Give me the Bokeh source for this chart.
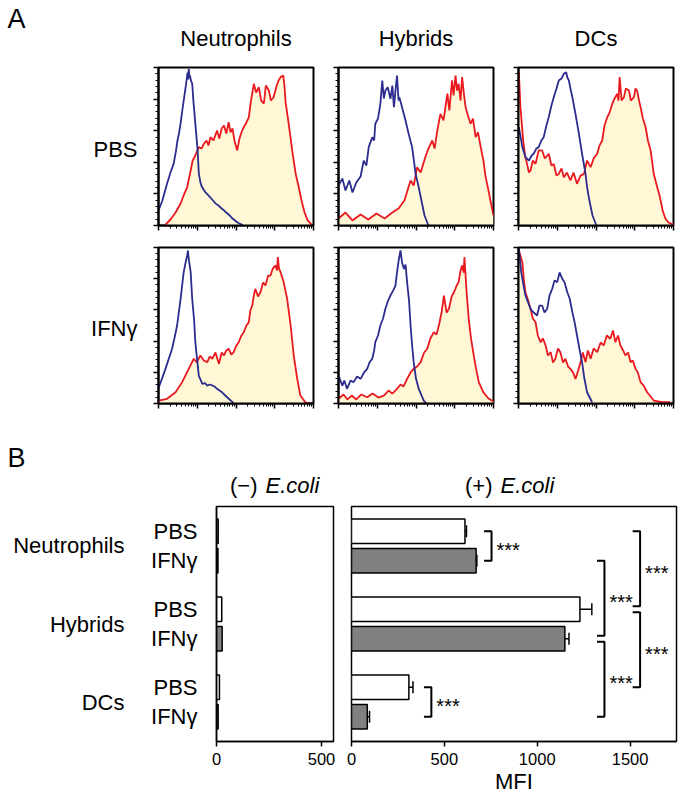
import numpy as np
from bokeh.plotting import figure
from bokeh.layouts import column, row
from bokeh.models import (Range1d, FactorRange, FixedTicker, LinearAxis, Whisker,
                          TeeHead, ColumnDataSource)
from bokeh.core.properties import value
from bokeh.embed import file_html
from bokeh.resources import INLINE

FONT = "Liberation Sans"
RED = "#E8191F"
BLUE = "#2C2C8E"
CREAM = "#FFF7D6"
GRAY = "#808080"

cells = ["Neutrophils", "Hybrids", "DCs"]
treatments = ["PBS", "IFNγ"]
panel_letters = ["A", "B"]
stim_signs = ["(−)", "(+)"]
stim_name = "E.coli"

# ---------------- Panel A: histograms (x = log10 fluorescence, y = % of max) ----
neu_pbs_blue_x = [0.00, 0.10, 0.22, 0.31, 0.39, 0.45, 0.49, 0.53, 0.57, 0.61, 0.65, 0.70, 0.73, 0.75, 0.77, 0.78, 0.80, 0.81, 0.84, 0.87, 0.90, 0.95, 1.01, 1.04, 1.08, 1.11, 1.16, 1.21, 1.27, 1.34, 1.40, 1.47, 1.53, 1.60, 1.67, 1.75, 1.83, 1.91, 2.04, 2.17]
neu_pbs_blue_y = [9.5, 15.8, 26.4, 33.5, 39.0, 47.0, 53.8, 58.5, 64.6, 72.0, 79.0, 87.5, 93.0, 96.8, 92.5, 99.2, 94.0, 95.0, 91.5, 89.7, 79.0, 64.6, 47.5, 33.0, 27.5, 25.0, 23.0, 21.0, 19.5, 17.7, 16.0, 14.0, 13.0, 11.4, 10.0, 8.2, 6.5, 4.4, 1.9, 0.3]
neu_pbs_red_x = [0.18, 0.31, 0.44, 0.57, 0.67, 0.74, 0.83, 0.88, 0.95, 1.04, 1.11, 1.17, 1.24, 1.29, 1.34, 1.42, 1.51, 1.57, 1.63, 1.69, 1.75, 1.81, 1.86, 1.91, 1.96, 2.03, 2.09, 2.14, 2.20, 2.27, 2.33, 2.37, 2.41, 2.46, 2.52, 2.59, 2.65, 2.72, 2.77, 2.85, 2.90, 2.97, 3.05, 3.10, 3.15, 3.22, 3.25, 3.28, 3.36, 3.45, 3.54, 3.62, 3.69, 3.77, 3.85, 3.95]
neu_pbs_red_y = [0.6, 3.8, 8.2, 13.9, 20.3, 24.2, 34.8, 41.0, 44.3, 49.6, 48.7, 51.7, 53.8, 50.6, 55.9, 53.8, 60.1, 55.0, 61.4, 63.3, 58.2, 65.4, 58.9, 61.4, 53.8, 47.5, 55.0, 58.9, 62.2, 65.2, 68.5, 75.9, 82.3, 89.7, 84.2, 87.5, 79.1, 77.2, 88.6, 85.4, 79.1, 81.2, 88.6, 91.8, 93.9, 94.9, 88.6, 78.0, 64.4, 47.5, 32.7, 24.2, 15.8, 8.2, 3.2, 0.6]

hyb_pbs_blue_x = [0.00, 0.10, 0.18, 0.28, 0.36, 0.46, 0.57, 0.65, 0.72, 0.78, 0.87, 0.92, 0.95, 1.02, 1.08, 1.13, 1.17, 1.21, 1.27, 1.32, 1.34, 1.39, 1.43, 1.47, 1.51, 1.55, 1.57, 1.64, 1.73, 1.81, 1.90, 1.99, 2.07, 2.14, 2.22, 2.32]
hyb_pbs_blue_y = [25.3, 29.7, 22.2, 28.5, 20.9, 27.2, 31.0, 41.1, 38.0, 49.6, 55.9, 53.8, 64.4, 67.7, 77.0, 91.8, 80.4, 85.4, 87.5, 82.3, 80.2, 88.6, 74.9, 85.4, 94.9, 79.1, 81.2, 74.9, 66.5, 58.0, 49.6, 32.7, 24.2, 15.8, 6.3, 0.0]
hyb_pbs_red_x = [0.00, 0.18, 0.36, 0.57, 0.77, 0.98, 1.19, 1.39, 1.55, 1.70, 1.86, 1.94, 2.03, 2.12, 2.24, 2.32, 2.42, 2.48, 2.55, 2.63, 2.71, 2.81, 2.86, 2.93, 2.97, 3.02, 3.06, 3.10, 3.15, 3.19, 3.24, 3.28, 3.34, 3.41, 3.47, 3.54, 3.60, 3.67, 3.74, 3.79, 3.87, 3.92, 4.00]
hyb_pbs_red_y = [4.4, 8.2, 3.2, 7.0, 3.8, 7.6, 4.4, 8.2, 10.8, 15.8, 28.5, 25.3, 36.9, 33.5, 43.2, 48.7, 53.8, 48.7, 60.1, 70.7, 66.5, 83.4, 72.8, 91.8, 82.3, 94.9, 85.4, 89.7, 79.1, 93.9, 82.3, 74.9, 69.6, 64.4, 67.7, 55.9, 58.9, 49.6, 41.1, 31.6, 22.2, 15.8, 6.3]

dc_pbs_blue_x = [0.01, 0.10, 0.18, 0.27, 0.34, 0.39, 0.46, 0.52, 0.59, 0.65, 0.72, 0.78, 0.85, 0.91, 0.98, 1.04, 1.11, 1.17, 1.23, 1.26, 1.30, 1.34, 1.39, 1.47, 1.56, 1.64, 1.73, 1.77, 1.83, 1.91, 2.01]
dc_pbs_blue_y = [62.2, 49.6, 43.2, 41.1, 44.3, 45.4, 48.7, 49.6, 53.8, 55.9, 63.3, 68.5, 75.9, 81.2, 86.7, 91.8, 93.0, 96.0, 97.0, 93.7, 91.8, 86.7, 81.2, 70.7, 58.0, 45.4, 32.7, 24.2, 15.8, 6.3, 0.0]
dc_pbs_red_x = [0.01, 0.05, 0.09, 0.12, 0.17, 0.22, 0.27, 0.31, 0.37, 0.44, 0.52, 0.61, 0.68, 0.78, 0.85, 0.91, 0.98, 1.04, 1.11, 1.17, 1.25, 1.34, 1.42, 1.51, 1.60, 1.69, 1.77, 1.86, 1.94, 2.03, 2.09, 2.16, 2.22, 2.29, 2.35, 2.42, 2.48, 2.55, 2.58, 2.61, 2.66, 2.72, 2.77, 2.85, 2.90, 2.98, 3.02, 3.06, 3.11, 3.15, 3.21, 3.28, 3.34, 3.41, 3.49, 3.58, 3.64, 3.72, 3.79, 3.87, 4.00]
dc_pbs_red_y = [97.0, 74.9, 63.3, 53.8, 44.3, 39.0, 33.5, 34.8, 41.1, 39.0, 47.5, 47.5, 42.4, 45.4, 38.0, 39.0, 31.6, 32.7, 36.1, 30.6, 33.5, 28.5, 33.5, 26.4, 31.6, 32.7, 41.1, 36.9, 42.4, 45.4, 50.6, 53.8, 63.3, 68.5, 71.5, 77.0, 80.4, 83.4, 79.1, 93.9, 79.1, 81.2, 86.7, 85.4, 79.1, 81.2, 86.7, 85.4, 79.1, 74.9, 67.7, 62.2, 53.8, 47.5, 32.7, 24.2, 19.0, 9.5, 4.4, 1.9, 0.6]

neu_ifn_blue_x = [0.01, 0.18, 0.35, 0.41, 0.48, 0.57, 0.65, 0.70, 0.74, 0.76, 0.78, 0.83, 0.87, 0.92, 0.95, 1.04, 1.13, 1.20, 1.26, 1.33, 1.39, 1.45, 1.51, 1.64, 1.77, 1.94]
neu_ifn_blue_y = [10.4, 22.2, 35.1, 41.7, 50.0, 67.1, 84.2, 90.4, 94.9, 98.1, 92.8, 84.2, 67.1, 53.2, 39.3, 17.9, 12.6, 13.0, 11.5, 12.2, 11.5, 10.8, 9.4, 7.2, 4.0, 0.2]
neu_ifn_red_x = [0.01, 0.22, 0.44, 0.61, 0.78, 0.91, 0.99, 1.08, 1.17, 1.26, 1.32, 1.39, 1.47, 1.56, 1.63, 1.69, 1.75, 1.81, 1.88, 1.94, 2.01, 2.07, 2.14, 2.20, 2.27, 2.33, 2.37, 2.42, 2.46, 2.50, 2.57, 2.63, 2.70, 2.76, 2.83, 2.89, 2.95, 3.02, 3.06, 3.08, 3.11, 3.15, 3.23, 3.32, 3.41, 3.49, 3.58, 3.66, 3.79, 3.92]
neu_ifn_red_y = [1.9, 3.0, 7.2, 13.7, 22.2, 28.7, 26.3, 30.8, 27.6, 26.5, 30.1, 28.7, 32.7, 25.4, 32.7, 30.8, 34.0, 35.1, 31.4, 32.9, 37.2, 39.3, 43.6, 45.7, 50.0, 52.1, 59.6, 62.8, 69.2, 73.5, 68.6, 71.3, 77.6, 75.6, 82.0, 82.0, 86.5, 88.5, 85.3, 93.8, 86.5, 84.2, 77.8, 67.1, 50.0, 30.8, 15.8, 5.1, 0.8, 0.0]

hyb_ifn_blue_x = [0.00, 0.10, 0.15, 0.22, 0.31, 0.39, 0.48, 0.57, 0.66, 0.74, 0.80, 0.87, 0.92, 0.95, 1.02, 1.08, 1.15, 1.21, 1.28, 1.34, 1.41, 1.47, 1.51, 1.56, 1.60, 1.64, 1.69, 1.73, 1.77, 1.82, 1.86, 1.90, 1.94, 2.00, 2.07, 2.20, 2.27]
hyb_ifn_blue_y = [17.9, 11.5, 14.7, 9.4, 14.7, 13.7, 17.3, 15.8, 19.9, 22.2, 26.3, 28.7, 34.0, 39.3, 43.6, 50.0, 54.5, 60.7, 66.0, 69.2, 72.4, 75.6, 84.0, 92.8, 98.1, 90.4, 86.3, 89.1, 77.8, 66.0, 50.0, 37.2, 26.5, 16.0, 9.4, 1.9, 0.0]
hyb_ifn_red_x = [0.00, 0.13, 0.23, 0.34, 0.46, 0.59, 0.74, 0.88, 1.03, 1.17, 1.29, 1.39, 1.51, 1.60, 1.68, 1.77, 1.86, 1.94, 2.03, 2.12, 2.21, 2.29, 2.37, 2.46, 2.53, 2.59, 2.66, 2.72, 2.79, 2.85, 2.92, 2.98, 3.05, 3.10, 3.15, 3.19, 3.23, 3.25, 3.28, 3.30, 3.36, 3.42, 3.49, 3.55, 3.62, 3.74, 3.87, 4.00]
hyb_ifn_red_y = [3.0, 5.8, 2.6, 5.1, 2.6, 5.8, 4.0, 6.4, 3.8, 5.1, 8.3, 6.4, 9.4, 12.2, 10.9, 15.8, 19.9, 22.2, 23.7, 26.5, 32.7, 35.1, 41.7, 45.7, 44.2, 50.0, 58.3, 69.2, 58.3, 60.7, 68.6, 71.3, 75.6, 77.8, 85.3, 88.5, 84.0, 93.8, 82.0, 73.5, 54.3, 41.7, 30.8, 22.4, 13.7, 7.1, 3.2, 1.3]

dc_ifn_blue_x = [0.01, 0.07, 0.13, 0.18, 0.25, 0.31, 0.39, 0.48, 0.54, 0.61, 0.67, 0.74, 0.80, 0.87, 0.93, 1.00, 1.06, 1.13, 1.19, 1.26, 1.32, 1.39, 1.45, 1.51, 1.57, 1.64, 1.70, 1.77, 1.90]
dc_ifn_blue_y = [99.2, 84.2, 75.6, 69.2, 64.7, 60.7, 58.3, 56.4, 62.8, 62.8, 58.3, 60.7, 69.2, 73.5, 78.8, 77.8, 84.0, 79.9, 77.6, 71.3, 67.3, 58.5, 51.9, 43.6, 35.3, 26.5, 16.0, 7.2, 0.8]
dc_ifn_red_x = [0.01, 0.10, 0.14, 0.18, 0.25, 0.31, 0.37, 0.44, 0.50, 0.57, 0.63, 0.70, 0.76, 0.83, 0.89, 0.95, 1.02, 1.08, 1.15, 1.21, 1.28, 1.34, 1.41, 1.47, 1.54, 1.60, 1.66, 1.73, 1.79, 1.86, 1.94, 2.03, 2.12, 2.20, 2.28, 2.37, 2.44, 2.50, 2.57, 2.63, 2.70, 2.76, 2.83, 2.89, 2.95, 3.02, 3.08, 3.15, 3.23, 3.32, 3.41, 3.49, 3.71, 3.92]
dc_ifn_red_y = [98.0, 90.6, 78.8, 71.3, 66.0, 60.7, 54.5, 52.1, 43.6, 39.3, 41.7, 37.2, 30.8, 32.9, 26.3, 28.7, 35.3, 32.9, 26.3, 28.7, 23.7, 22.2, 19.9, 15.8, 21.2, 26.5, 32.7, 26.5, 34.0, 28.7, 35.3, 32.9, 39.1, 37.2, 43.6, 41.5, 46.8, 39.3, 43.6, 37.2, 34.0, 30.8, 32.7, 26.5, 27.6, 22.2, 19.9, 13.7, 11.5, 7.2, 4.5, 1.9, 0.8, 0.8]

# ---------------- Panel B: MFI ----------------
neg_pbs = [8, 25, 14]
neg_ifn = [7, 27, 8]
pos_pbs = [611, 1230, 309]
pos_pbs_err = [8, 64, 22]
pos_ifn = [671, 1149, 85]
pos_ifn_err = [4, 22, 12]
neg_ticks = [0, 500]
pos_ticks = [0, 500, 1000, 1500]

bracket_upper = [("Neutrophils", "PBS"), ("Neutrophils", "IFNγ"), ("Hybrids", "IFNγ"),
                 ("Neutrophils", "PBS"), ("Hybrids", "PBS"), ("DCs", "PBS")]
bracket_lower = [("Neutrophils", "IFNγ"), ("Hybrids", "IFNγ"), ("DCs", "IFNγ"),
                 ("Hybrids", "PBS"), ("DCs", "PBS"), ("DCs", "IFNγ")]
bracket_x = [754, 1362, 1362, 1554, 1554, 430]
bracket_text = ["***", "***", "***", "***", "***", "***"]

# ---------------- layout constants (pixels) ----------------
PAGE_W = 681
HIST_LEFT = [158, 338, 518]
HIST_W = 155
HIST_H = [158, 156]
HEAD_A_H = 55
HEAD_B_H = 86
B_LEFT = [216, 351]
B_W = [117, 325]
B_H = 235
BIG = 22
LETTER = 27
BASELINE_FIX = 0.37   # Bokeh's alphabetic anchor sits ~0.37 em low

hist_x_major = [0, 1, 2, 3, 4]
hist_x_minor = [d + float(np.log10(k)) for d in range(4) for k in range(2, 10)]
hist_y_major = [0, 20, 40, 60, 80, 100]
hist_y_minor = [v for v in range(0, 101, 4) if v % 20]


def blank_fig(w, h, xr, yr, **kw):
    p = figure(frame_width=w, frame_height=h, x_range=xr, y_range=yr,
               x_axis_location=None, y_axis_location=None,
               output_backend="svg", toolbar_location=None, **kw)
    p.grid.visible = False
    p.outline_line_color = None
    return p


def header(h):
    return blank_fig(PAGE_W, h, Range1d(0, PAGE_W), Range1d(0, h),
                     min_border_left=0, min_border_right=0,
                     min_border_top=0, min_border_bottom=0)


def put_text(p, h, xs, base_from_top, texts, size=BIG, align="left", style="normal"):
    y = h - base_from_top + BASELINE_FIX * size
    p.text(x=xs, y=[y] * len(xs), text=texts, text_font=value(FONT),
           text_font_size=f"{size}px", text_font_style=style, text_align=align,
           text_baseline="alphabetic", text_color="black")


def make_hist(bx, by, rx, ry, col, rowi):
    right_edge = HIST_LEFT[col + 1] if col < 2 else PAGE_W
    left_border = HIST_LEFT[0] if col == 0 else HIST_LEFT[col] - (HIST_LEFT[col - 1] + HIST_W + 12)
    p = figure(frame_width=HIST_W, frame_height=HIST_H[rowi],
               x_range=Range1d(0, 4), y_range=Range1d(0, 100),
               min_border_left=left_border,
               min_border_right=12 if col < 2 else right_edge - HIST_LEFT[col] - HIST_W,
               min_border_top=12 if rowi == 0 else 11,
               min_border_bottom=11 if rowi == 0 else 12,
               output_backend="svg", toolbar_location=None)
    p.varea(x=rx, y1=0, y2=ry, fill_color=CREAM)
    p.line(rx, ry, line_color=RED, line_width=1.8)
    p.line(bx, by, line_color=BLUE, line_width=1.8)
    p.xgrid.visible = False
    p.ygrid.visible = False
    p.outline_line_color = "black"
    p.outline_line_width = 2
    p.outline_line_alpha = 1
    p.xaxis.ticker = FixedTicker(ticks=hist_x_major, minor_ticks=hist_x_minor)
    p.yaxis.ticker = FixedTicker(ticks=hist_y_major, minor_ticks=hist_y_minor)
    for ax in (p.xaxis[0], p.yaxis[0]):
        ax.axis_line_width = 2
        ax.axis_line_color = "black"
        ax.major_tick_line_color = "black"
        ax.major_tick_line_width = 1.5
        ax.major_tick_out = 5
        ax.major_tick_in = 0
        ax.minor_tick_line_color = "black"
        ax.minor_tick_line_width = 1
        ax.minor_tick_out = 3
        ax.minor_tick_in = 0
        ax.major_label_text_color = None
        ax.major_label_text_font_size = "1px"
        ax.major_label_standoff = 0
    if col == 0:
        lab = LinearAxis(ticker=FixedTicker(ticks=[48]),
                         major_label_overrides={48: treatments[rowi]},
                         axis_line_color=None, major_tick_line_color=None,
                         minor_tick_line_color=None, major_tick_out=0, major_tick_in=0,
                         major_label_text_font=FONT, major_label_text_font_size=f"{BIG}px",
                         major_label_text_color="black", major_label_standoff=16)
        p.add_layout(lab, "left")
    return p


curves = [
    (neu_pbs_blue_x, neu_pbs_blue_y, neu_pbs_red_x, neu_pbs_red_y),
    (hyb_pbs_blue_x, hyb_pbs_blue_y, hyb_pbs_red_x, hyb_pbs_red_y),
    (dc_pbs_blue_x, dc_pbs_blue_y, dc_pbs_red_x, dc_pbs_red_y),
    (neu_ifn_blue_x, neu_ifn_blue_y, neu_ifn_red_x, neu_ifn_red_y),
    (hyb_ifn_blue_x, hyb_ifn_blue_y, hyb_ifn_red_x, hyb_ifn_red_y),
    (dc_ifn_blue_x, dc_ifn_blue_y, dc_ifn_red_x, dc_ifn_red_y),
]
hists = [make_hist(*curves[i], col=i % 3, rowi=i // 3) for i in range(6)]

# header A: panel letter + column titles
head_a = header(HEAD_A_H)
put_text(head_a, HEAD_A_H, [7], 28, [panel_letters[0]], size=LETTER)
put_text(head_a, HEAD_A_H, [l + HIST_W / 2 for l in HIST_LEFT], 46.5, cells, align="center")

# ---------------- Panel B ----------------
GROUP_PAD = 0.65
y_factors = [(c, t) for c in reversed(cells) for t in reversed(treatments)]
rev_cells = list(reversed(cells))


def synth(f):
    return y_factors.index(f) + 0.5 + rev_cells.index(f[0]) * GROUP_PAD


def group_center(c):
    return (synth((c, treatments[0])) + synth((c, treatments[1]))) / 2


def bar_source(pbs, ifn, pbs_err=None, ifn_err=None):
    ys, vals, ups, cols = [], [], [], []
    for i, c in enumerate(cells):
        for t, v, e, colr in ((treatments[0], pbs[i], pbs_err[i] if pbs_err else 0, "white"),
                              (treatments[1], ifn[i], ifn_err[i] if ifn_err else 0, GRAY)):
            ys.append((c, t))
            vals.append(v)
            ups.append(v + e)
            cols.append(colr)
    return ColumnDataSource(dict(y=ys, val=vals, upper=ups, color=cols))


def style_x(ax, ticks):
    ax.ticker = FixedTicker(ticks=ticks)
    ax.axis_line_width = 1.5
    ax.axis_line_color = "black"
    ax.major_tick_line_color = "black"
    ax.major_tick_line_width = 1.5
    ax.major_tick_out = 5
    ax.major_tick_in = 0
    ax.minor_tick_line_color = None
    ax.major_label_text_font = FONT
    ax.major_label_text_font_size = "16.5px"
    ax.major_label_text_color = "black"
    ax.major_label_standoff = 6


fb1 = figure(frame_width=B_W[0], frame_height=B_H, x_range=Range1d(0, 557),
             y_range=FactorRange(factors=y_factors, group_padding=GROUP_PAD, range_padding=0.093),
             min_border_left=B_LEFT[0], min_border_right=8, min_border_top=5, min_border_bottom=54,
             output_backend="svg", toolbar_location=None)
fb1.hbar(y="y", left=0, right="val", height=0.83, fill_color="color", line_color="black",
         line_width=1.5, source=bar_source(neg_pbs, neg_ifn))
style_x(fb1.xaxis[0], neg_ticks)
ya = fb1.yaxis[0]
ya.axis_line_width = 1.5
ya.axis_line_color = "black"
ya.major_tick_line_color = None
ya.minor_tick_line_color = None
ya.major_tick_out = 0
ya.major_label_text_font = FONT
ya.major_label_text_font_size = f"{BIG}px"
ya.major_label_text_color = "black"
ya.major_label_standoff = 19
ya.group_text_color = None
ya.group_text_font_size = "1px"
ya.separator_line_color = None

grp_ticks = [group_center(c) for c in cells]
grp_axis = LinearAxis(ticker=FixedTicker(ticks=grp_ticks),
                      major_label_overrides={t: c for t, c in zip(grp_ticks, cells)},
                      axis_line_color=None, major_tick_line_color=None,
                      minor_tick_line_color=None, major_tick_out=0, major_tick_in=0,
                      major_label_text_font=FONT, major_label_text_font_size=f"{BIG}px",
                      major_label_text_color="black", major_label_standoff=24)
fb1.add_layout(grp_axis, "left")

fb2 = figure(frame_width=B_W[1], frame_height=B_H, x_range=Range1d(0, 1750),
             y_range=FactorRange(factors=y_factors, group_padding=GROUP_PAD, range_padding=0.093),
             y_axis_location=None,
             min_border_left=B_LEFT[1] - B_LEFT[0] - B_W[0] - 8, min_border_right=5,
             min_border_top=5, min_border_bottom=54,
             output_backend="svg", toolbar_location=None)
src_pos = bar_source(pos_pbs, pos_ifn, pos_pbs_err, pos_ifn_err)
fb2.hbar(y="y", left=0, right="val", height=0.83, fill_color="color", line_color="black",
         line_width=1.5, source=src_pos)
fb2.add_layout(Whisker(source=src_pos, base="y", lower="val", upper="upper", dimension="width",
                       line_color="black", line_width=1.5, lower_head=None,
                       upper_head=TeeHead(size=12, line_color="black", line_width=1.5)))
style_x(fb2.xaxis[0], pos_ticks)
fb2.xaxis[0].axis_label = "MFI"
fb2.xaxis[0].axis_label_text_font = FONT
fb2.xaxis[0].axis_label_text_font_size = f"{BIG}px"
fb2.xaxis[0].axis_label_text_font_style = "normal"
fb2.xaxis[0].axis_label_text_color = "black"
fb2.xaxis[0].axis_label_standoff = 1

# significance brackets
ARM = 40
xs, ys, lx, ly = [], [], [], []
for i, (up, lo, bx) in enumerate(zip(bracket_upper, bracket_lower, bracket_x)):
    y_top = synth(up)
    y_bot = synth(lo)
    for j, (up2, lo2, bx2) in enumerate(zip(bracket_upper, bracket_lower, bracket_x)):
        if j != i and bx2 == bx:
            if up2 == lo:
                y_bot += 0.1
            if lo2 == up:
                y_top -= 0.1
    xs.append([bx - ARM, bx, bx, bx - ARM])
    ys.append([y_top, y_top, y_bot, y_bot])
    lx.append(bx)
    ly.append((y_top + y_bot) / 2)
fb2.multi_line(xs=xs, ys=ys, line_color="black", line_width=2)
fb2.text(x=lx, y=ly, text=bracket_text, x_offset=5, y_offset=4, text_font=value(FONT),
         text_font_size="20px", text_align="left", text_baseline="alphabetic",
         text_color="black")

for fb in (fb1, fb2):
    fb.xgrid.visible = False
    fb.ygrid.visible = False
    fb.outline_line_color = "black"
    fb.outline_line_width = 1.5
    fb.outline_line_alpha = 1

# header B: panel letter + stimulation titles
head_b = header(HEAD_B_H)
put_text(head_b, HEAD_B_H, [7], 467 - 415, [panel_letters[1]], size=LETTER)
sign_right = [B_LEFT[0] + 41, B_LEFT[1] + 141]
put_text(head_b, HEAD_B_H, sign_right, 493 - 415, stim_signs, align="right")
put_text(head_b, HEAD_B_H, [x + 8 for x in sign_right], 493 - 415, [stim_name, stim_name],
         style="italic")

p = column(head_a, row(*hists[:3]), row(*hists[3:]), head_b, row(fb1, fb2))
open("out.html", "w").write(file_html(p, INLINE))
